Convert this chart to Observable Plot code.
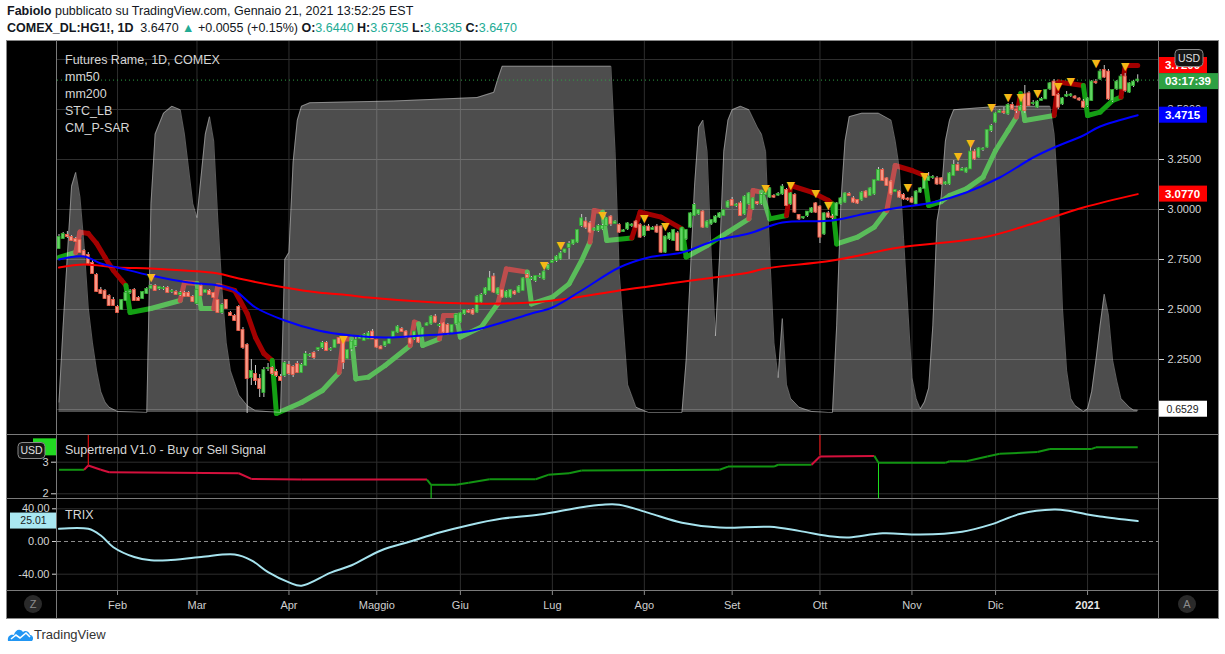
<!DOCTYPE html>
<html><head><meta charset="utf-8">
<script src="https://cdn.jsdelivr.net/npm/d3@7"></script>
<script src="https://cdn.jsdelivr.net/npm/@observablehq/plot@0.6"></script>
<style>
body{margin:0;background:#fff;}
#wrap{position:relative;width:1225px;height:654px;overflow:hidden;background:#fff;font-family:'Liberation Sans',Arial,sans-serif;}
.abs{position:absolute;}
.hdr{position:absolute;left:7px;font-size:12.5px;color:#131722;white-space:nowrap;}
.t{color:#22ab94;}
.lg{position:absolute;left:65px;font-size:12.5px;color:#d6d6d6;white-space:nowrap;}
.ln{position:absolute;background:#7a7a7a;}
svg{position:absolute;left:0;}
</style></head><body><div id="wrap">
<div class="hdr" style="top:4px"><b>Fabiolo</b> pubblicato su TradingView.com, Gennaio 21, 2021 13:52:25 EST</div>
<div class="hdr" style="top:21px"><b>COMEX_DL:HG1!, 1D</b>&nbsp; 3.6470 <span class="t">▲</span> +0.0055 (+0.15%) <b>O:</b><span class="t">3.6440</span> <b>H:</b><span class="t">3.6735</span> <b>L:</b><span class="t">3.6335</span> <b>C:</b><span class="t">3.6470</span></div>
<div class="abs" id="frame" style="left:6px;top:40px;width:1213px;height:579px;background:#000;box-sizing:border-box;border:1px solid #888;"></div>
<div class="abs" style="left:7px;top:626px;"><svg width="26" height="16" style="position:static"><path d="M1 15 C0 10 4 8 7 9 C8 4 13 2 16 6 C18 4 22 5 23 9 C26 9 27 13 25 15 Z" fill="#2196f3"/><polyline points="4,13 9,9 13,12 19,7 23,11" stroke="#fff" fill="none" stroke-width="1.6"/></svg></div>
<div class="abs" style="left:34px;top:627px;font-size:13px;color:#333;">TradingView</div>
</div>
<script>
// ---------------- DATA ----------------
const opens = [
2.805,2.855,2.87,2.86,2.85,2.845,2.79,2.77,2.73,2.67,
2.595,2.59,2.565,2.545,2.51,2.50,2.545,2.585,2.595,2.555,
2.555,2.58,2.605,2.615,2.605,2.605,2.605,2.59,2.585,2.575,
2.58,2.58,2.56,2.53,2.615,2.585,2.59,2.58,2.545,2.485,
2.545,2.48,2.465,2.51,2.395,2.32,2.16,2.175,2.15,2.085,
2.205,2.205,2.185,2.16,2.17,2.22,2.21,2.225,2.185,2.22,
2.27,2.28,2.30,2.31,2.33,2.30,2.31,2.355,2.345,2.255,
2.303,2.32,2.355,2.345,2.353,2.387,2.345,2.312,2.32,2.33,
2.362,2.387,2.40,2.387,2.353,2.353,2.362,2.362,2.42,2.428,
2.462,2.42,2.428,2.42,2.387,2.428,2.437,2.478,2.49,2.495,
2.487,2.537,2.578,2.595,2.662,2.578,2.595,2.562,2.562,2.587,
2.587,2.595,2.67,2.655,2.645,2.665,2.653,2.703,2.735,2.745,
2.753,2.787,2.81,2.828,2.837,2.92,2.937,2.928,2.898,2.895,
2.903,2.92,2.962,2.93,2.92,2.89,2.903,2.92,2.937,2.92,
2.87,2.912,2.90,2.912,2.912,2.787,2.853,2.845,2.878,2.795,
2.853,2.912,2.97,2.978,2.987,2.912,2.928,2.937,2.962,2.97,
3.012,3.045,3.02,3.028,2.978,3.028,3.003,3.035,3.028,3.075,
3.062,3.065,3.072,3.078,3.095,3.028,3.07,2.97,2.958,2.97,
2.987,3.028,3.012,2.878,2.978,2.962,2.97,3.028,3.037,3.075,
3.053,3.045,3.048,3.087,3.07,3.078,3.145,3.195,3.153,3.137,
3.09,3.087,3.07,3.052,3.053,3.028,3.087,3.105,3.145,3.16,
3.153,3.153,3.128,3.128,3.17,3.22,3.195,3.187,3.203,3.287,
3.262,3.30,3.312,3.395,3.437,3.485,3.487,3.478,3.52,3.497,
3.495,3.573,3.578,3.53,3.512,3.545,3.553,3.603,3.637,3.57,
3.528,3.567,3.57,3.562,3.552,3.537,3.52,3.545,3.636,3.653,
3.695,3.687,3.545,3.603,3.603,3.662,3.587,3.62,3.644];
const highs = [
2.875,2.885,2.89,2.87,2.86,2.85,2.80,2.785,2.745,2.68,
2.61,2.60,2.575,2.56,2.52,2.55,2.59,2.60,2.605,2.565,
2.59,2.61,2.625,2.625,2.615,2.615,2.615,2.60,2.595,2.59,
2.59,2.59,2.57,2.60,2.625,2.60,2.60,2.585,2.55,2.53,
2.55,2.49,2.475,2.52,2.41,2.33,2.25,2.22,2.175,2.21,
2.23,2.215,2.20,2.175,2.24,2.24,2.22,2.24,2.23,2.29,
2.28,2.29,2.31,2.34,2.34,2.31,2.35,2.36,2.35,2.30,
2.345,2.36,2.37,2.38,2.39,2.40,2.35,2.32,2.34,2.36,
2.39,2.42,2.41,2.395,2.36,2.39,2.37,2.41,2.435,2.47,
2.475,2.43,2.435,2.43,2.425,2.475,2.485,2.50,2.50,2.505,
2.57,2.58,2.61,2.69,2.68,2.61,2.60,2.595,2.60,2.595,
2.62,2.66,2.68,2.665,2.67,2.68,2.695,2.73,2.75,2.77,
2.79,2.80,2.84,2.85,2.90,2.975,2.96,2.94,2.91,2.925,
2.925,2.96,2.97,2.945,2.93,2.90,2.935,2.93,2.945,2.93,
2.92,2.925,2.915,2.925,2.92,2.87,2.885,2.90,2.89,2.91,
2.90,2.985,3.03,3.00,2.995,2.945,2.95,2.97,2.985,3.00,
3.045,3.06,3.03,3.04,3.07,3.085,3.06,3.04,3.08,3.09,
3.11,3.075,3.085,3.125,3.105,3.085,3.08,2.975,2.965,2.99,
3.01,3.035,3.02,2.985,2.99,2.975,3.035,3.06,3.085,3.085,
3.065,3.05,3.09,3.095,3.11,3.15,3.21,3.205,3.16,3.145,
3.10,3.095,3.08,3.06,3.065,3.095,3.11,3.16,3.185,3.17,
3.165,3.16,3.14,3.185,3.245,3.235,3.21,3.21,3.33,3.30,
3.31,3.31,3.40,3.425,3.485,3.50,3.51,3.53,3.535,3.50,
3.52,3.62,3.59,3.545,3.545,3.56,3.60,3.635,3.65,3.58,
3.56,3.59,3.58,3.57,3.56,3.55,3.56,3.645,3.65,3.70,
3.72,3.70,3.60,3.645,3.675,3.68,3.635,3.645,3.6735];
const lows = [
2.80,2.85,2.855,2.84,2.835,2.78,2.765,2.725,2.675,2.585,
2.575,2.55,2.515,2.515,2.48,2.495,2.54,2.575,2.54,2.54,
2.55,2.575,2.60,2.59,2.595,2.595,2.58,2.58,2.57,2.565,
2.56,2.56,2.535,2.52,2.565,2.58,2.57,2.555,2.48,2.475,
2.50,2.465,2.44,2.39,2.30,1.98,2.12,2.12,2.06,2.06,
2.19,2.17,2.16,2.14,2.16,2.17,2.16,2.18,2.18,2.215,
2.26,2.25,2.29,2.30,2.29,2.29,2.305,2.325,2.20,2.25,
2.29,2.31,2.35,2.34,2.35,2.35,2.305,2.30,2.31,2.325,
2.355,2.38,2.385,2.355,2.325,2.345,2.33,2.355,2.415,2.42,
2.43,2.41,2.38,2.37,2.38,2.42,2.43,2.47,2.48,2.47,
2.48,2.53,2.57,2.59,2.58,2.57,2.555,2.555,2.555,2.57,
2.58,2.59,2.655,2.645,2.635,2.655,2.645,2.695,2.73,2.735,
2.745,2.78,2.75,2.82,2.83,2.91,2.90,2.88,2.89,2.885,
2.895,2.915,2.915,2.925,2.88,2.885,2.895,2.91,2.905,2.855,
2.86,2.89,2.895,2.88,2.78,2.78,2.845,2.84,2.79,2.79,
2.845,2.905,2.965,2.97,2.905,2.905,2.92,2.93,2.955,2.965,
3.005,3.015,3.01,2.965,2.97,3.02,2.995,3.02,3.02,3.07,
3.055,3.055,3.065,3.07,3.015,3.02,2.98,2.945,2.95,2.96,
2.98,2.98,2.83,2.87,2.955,2.95,2.965,3.02,3.03,3.065,
3.03,3.025,3.04,3.055,3.065,3.07,3.14,3.14,3.115,3.07,
3.085,3.055,3.045,3.04,3.03,3.02,3.08,3.10,3.14,3.15,
3.12,3.12,3.12,3.12,3.165,3.19,3.19,3.18,3.20,3.245,
3.255,3.29,3.305,3.385,3.43,3.48,3.475,3.47,3.495,3.48,
3.49,3.48,3.515,3.52,3.505,3.54,3.55,3.595,3.565,3.50,
3.52,3.56,3.56,3.55,3.54,3.505,3.51,3.54,3.625,3.645,
3.655,3.545,3.535,3.595,3.60,3.585,3.58,3.61,3.6335];
const closes = [
2.86,2.875,2.865,2.845,2.84,2.785,2.77,2.73,2.68,2.59,
2.58,2.555,2.52,2.52,2.485,2.545,2.58,2.59,2.545,2.545,
2.585,2.60,2.615,2.595,2.61,2.605,2.585,2.59,2.575,2.58,
2.565,2.565,2.54,2.595,2.57,2.595,2.575,2.56,2.485,2.52,
2.505,2.47,2.445,2.395,2.31,2.155,2.19,2.145,2.105,2.195,
2.205,2.18,2.17,2.145,2.23,2.18,2.175,2.185,2.22,2.275,
2.27,2.26,2.305,2.33,2.295,2.30,2.345,2.33,2.235,2.295,
2.337,2.345,2.36,2.37,2.378,2.353,2.312,2.303,2.337,2.353,
2.387,2.412,2.39,2.362,2.332,2.387,2.337,2.403,2.428,2.462,
2.437,2.42,2.387,2.378,2.42,2.47,2.478,2.495,2.487,2.478,
2.562,2.57,2.603,2.653,2.587,2.603,2.562,2.587,2.595,2.578,
2.612,2.653,2.66,2.655,2.665,2.665,2.687,2.72,2.74,2.762,
2.778,2.798,2.825,2.845,2.895,2.953,2.912,2.887,2.902,2.915,
2.915,2.953,2.928,2.937,2.887,2.893,2.928,2.922,2.912,2.862,
2.912,2.895,2.905,2.887,2.787,2.862,2.878,2.895,2.795,2.903,
2.895,2.978,3.02,2.995,2.912,2.937,2.945,2.962,2.978,2.995,
3.037,3.02,3.022,2.97,3.062,3.078,3.053,3.03,3.07,3.08,
3.103,3.062,3.075,3.112,3.02,3.078,2.987,2.953,2.96,2.987,
3.003,2.987,2.862,2.978,2.962,2.96,3.028,3.053,3.078,3.07,
3.037,3.032,3.082,3.062,3.103,3.145,3.195,3.145,3.12,3.078,
3.095,3.062,3.053,3.05,3.037,3.087,3.103,3.15,3.162,3.16,
3.128,3.128,3.133,3.178,3.22,3.195,3.2,3.203,3.287,3.253,
3.303,3.302,3.395,3.415,3.478,3.49,3.485,3.52,3.503,3.495,
3.512,3.495,3.52,3.53,3.537,3.55,3.595,3.628,3.57,3.512,
3.553,3.57,3.572,3.558,3.548,3.512,3.553,3.637,3.634,3.687,
3.662,3.553,3.595,3.637,3.662,3.595,3.628,3.637,3.647];

const monthLabels = ["Feb","Mar","Apr","Maggio","Giu","Lug","Ago","Set","Ott","Nov","Dic","2021"];
const monthBars = [14,33,55,76,96,118,140,161,182,204,224,246];
const priceGrid = [2.0,2.25,2.5,2.75,3.0,3.25,3.5,3.75];
const priceLabels = [2.25,2.5,2.75,3.0,3.25,3.5];

const sma50Bars = [0,6,10,14,22,31,38,42,47,54,62,70,78,87,94,99,106,113,118,125,134,141,149,157,165,173,185,193,201,209,217,225,233,238,245,249,258];
const sma50Vals = [2.75,2.765,2.73,2.71,2.67,2.635,2.62,2.595,2.51,2.445,2.395,2.37,2.36,2.37,2.38,2.395,2.435,2.48,2.51,2.595,2.71,2.76,2.785,2.845,2.88,2.935,2.945,2.98,3.01,3.035,3.085,3.16,3.26,3.31,3.37,3.415,3.4715];
const sma200Bars = [0,6,14,22,30,38,43,54,62,70,74,90,98,106,113,122,134,146,153,165,169,185,201,221,233,245,258];
const sma200Vals = [2.71,2.725,2.71,2.705,2.695,2.68,2.655,2.61,2.585,2.57,2.56,2.535,2.53,2.53,2.535,2.555,2.595,2.63,2.65,2.685,2.705,2.745,2.81,2.86,2.93,3.01,3.077];

const sarBars = [0,4,5,7,9,11,13,15,16,17,22,29,30,33,34,37,38,42,45,47,49,51,52,58,63,67,68,70,71,74,78,84,85,86,87,91,92,95,96,101,105,107,112,113,118,122,125,127,128,130,131,137,139,144,149,150,155,160,165,166,168,170,174,175,180,184,185,186,191,195,198,200,204,207,208,211,213,217,221,224,227,229,230,231,238,239,245,246,249,252,254,255,258];
const sarVals = [2.76,2.785,2.887,2.88,2.83,2.76,2.695,2.645,2.62,2.485,2.505,2.545,2.635,2.63,2.505,2.505,2.62,2.595,2.48,2.36,2.28,2.245,1.98,2.035,2.095,2.185,2.353,2.353,2.153,2.162,2.22,2.32,2.437,2.428,2.32,2.353,2.47,2.47,2.362,2.412,2.53,2.703,2.687,2.528,2.562,2.628,2.745,2.837,2.995,2.987,2.845,2.858,2.987,2.962,2.903,2.762,2.82,2.887,2.953,3.095,3.087,2.953,2.97,3.12,3.087,3.045,3.028,2.828,2.862,2.912,2.995,3.22,3.195,3.17,3.02,3.04,3.07,3.103,3.162,3.295,3.395,3.462,3.58,3.445,3.47,3.637,3.62,3.47,3.487,3.545,3.562,3.72,3.72];
const sarSide = "uudddddddu uuddu uddddddu uuudd u uuudd u udd u uudd u uuuudd u uddd u uuudd u udddd u uuuddd u uuuuuuudu udd u uuudd".replace(/ /g,"").split("");

const stcBars = [0,1,2,3,4,5,6,7,8,9,10,11,12,14,21,22,23,25,27,29,30,31,32,33,34,35,36,37,38,39,40,41,43,45,47,53,54,55,56,57,58,60,80,100,104,105,106,132,133,134,136,138,141,149,150,151,152,153,154,155,156,157,158,159,160,161,163,165,167,168,169,170,171,172,173,174,175,177,180,184,185,186,187,188,189,192,196,199,200,201,202,203,204,205,206,207,208,209,210,211,212,213,214,225,237,238,239,240,241,242,243,245,246,247,248,249,250,251,252,253,254,256,257,258];
const stcVals = [3,25,45,65,69,62,48,30,20,12,6,3,1.5,0.3,0,60,80,86,88,87,80,70,60,56,68,80,85,78,55,35,20,12,5,2,0.5,0,44,46,72,84,88,89,89.5,90.5,92,96,99.5,99.5,75,40,8,1.5,0,0,15,40,65,82,84,75,45,22,45,75,84,87,88,87,82,80,75,45,20,10,27,8,4,1.5,0.3,0,0,25,60,78,85,86,86,84,78,70,50,30,10,4,1,3,7,25,55,62,78,84,87,88,88,80,62,30,12,4,2,0.3,1,6,15,25,34,28,15,9,4,1.5,0.7,0.6529];

const sigBars = [22,68,116,120,130,140,145,169,175,181,184,203,207,215,218,223,227,230,234,239,242,248,255];
const sigVals = [2.66,2.35,2.72,2.82,2.97,2.953,2.915,3.103,3.12,3.078,3.02,3.112,3.165,3.265,3.332,3.512,3.562,3.562,3.582,3.615,3.642,3.732,3.715];

const stBars = [0,6,7,10,12,43,46,58,88,89,95,98,103,114,117,122,125,158,160,171,172,180,182,195,196,212,213,217,222,225,234,237,247,248,258];
const stVals = [2.76,2.76,2.895,2.76,2.68,2.65,2.47,2.45,2.45,2.285,2.285,2.35,2.46,2.46,2.6,2.65,2.74,2.76,2.86,2.86,2.92,2.92,3.18,3.2,2.98,2.98,3.03,3.03,3.18,3.27,3.32,3.42,3.42,3.47,3.47];
const stSide = "uudddddddu uuuuuuuuuuuu dd uuuuuuuuuuu".replace(/ /g,"").split("");
const stSpikeBars = [7,89,182,196];
const stSpikeFrom = [2.895,2.285,3.2,2.98];
const stSpikeSide = ["d","u","d","u"];

const trixBars = [0,7,10,13,18,22,26,34,42,46,50,55,58,65,70,77,84,91,98,106,115,125,130,134,141,149,158,170,177,185,189,197,206,216,223,230,238,241,246,249,258];
const trixVals = [15.5,15.5,7.3,-7,-19,-23,-23,-19,-16,-23,-37.5,-50,-54,-38,-29,-11,0,11,20,28,33,42,45,45,35,23,17,18,13,6,5,10,8.5,12,21,34,39,38,33,30.6,25.01];

// ---------------- LAYOUT ----------------
const W = 1225;
const FONT = "'Liberation Sans', Arial, sans-serif";
const xDomain = [-0.36, 262.97];
const xRange = [57, 1158];
const GRID = "#2e2e2e";
const wrap = document.getElementById("wrap");

function pane(top, h, y, marks) {
  const p = Plot.plot({
    width: W, height: h, marginLeft: 57, marginRight: 67, marginTop: 0, marginBottom: 0,
    x: {domain: xDomain, range: xRange, axis: null},
    y: y,
    style: {background: "transparent", color: "#d4d4d4", fontFamily: FONT, fontSize: "11px", overflow: "visible"},
    marks
  });
  p.style.position = "absolute"; p.style.left = "0px"; p.style.top = top + "px";
  wrap.appendChild(p);
  return p;
}
function box(svg, x, yc, w, h, fill, text, color, bold, stroke) {
  const g = d3.select(svg).append("g");
  g.append("rect").attr("x", x).attr("y", yc - h/2).attr("width", w).attr("height", h)
    .attr("fill", fill).attr("rx", stroke ? 4 : 0).attr("stroke", stroke || "none");
  if (text) g.append("text").attr("x", x + w/2).attr("y", yc).attr("dy", "0.36em").attr("text-anchor", "middle")
    .attr("fill", color).attr("font-size", bold ? 11.5 : 10.5).attr("font-weight", bold ? "bold" : "normal")
    .attr("font-family", FONT).text(text);
}

const n = Math.min(opens.length, highs.length, lows.length, closes.length);
const candles = d3.range(n).map(i => ({i, o: opens[i], h: highs[i], l: lows[i], c: closes[i], up: closes[i] >= opens[i]}));
const pts = (bs, vs) => bs.map((b, k) => ({i: b, v: vs[k]}));
const SAR_UP = "#14a014", SAR_DN = "#a30000";
const sarSegs = sarBars.slice(1).map((b, k) => ({x1: sarBars[k], y1: sarVals[k], x2: b, y2: sarVals[k+1], c: sarSide[k+1] === "u" ? SAR_UP : SAR_DN}));
const STC0 = 1.985, STCK = 0.0174;
const stc = stcBars.map((b, k) => ({i: b, p: STC0 + stcVals[k] * STCK}));
const sigs = pts(sigBars, sigVals);

// ---- main pane: page y 41..434 ----
const main = pane(41, 393, {domain: [2, 3.75], range: [368, 18]}, [
  Plot.ruleY(priceGrid, {stroke: GRID}),
  Plot.ruleX(monthBars, {stroke: GRID}),
  Plot.link(sarSegs, {x1: "x1", y1: "y1", x2: "x2", y2: "y2", stroke: "c", strokeWidth: 5, strokeLinecap: "round"}),
  Plot.areaY(stc, {x: "i", y1: () => STC0, y2: "p", fill: "#ffffff", fillOpacity: 0.3}),
  Plot.lineY(stc, {x: "i", y: "p", stroke: "#ffffff", strokeOpacity: 0.35, strokeWidth: 1}),
  Plot.ruleY([closes[n-1]], {stroke: "#2ea043", strokeDasharray: "1,3", strokeWidth: 1}),
  Plot.ruleX(candles, {x: "i", y1: "l", y2: "h", stroke: "#c9c9c9", strokeWidth: 1}),
  Plot.rect(candles, {x1: d => d.i - 0.36, x2: d => d.i + 0.36, y1: "o", y2: "c",
    fill: d => d.up ? "#62d462" : "#f79a88", stroke: d => d.up ? "#2faa2f" : "#ee5540", strokeWidth: 0.8,
    insetTop: -0.5, insetBottom: -0.5}),
  Plot.lineY(pts(sma200Bars, sma200Vals), {x: "i", y: "v", stroke: "#ff0000", strokeWidth: 2, curve: "catmull-rom"}),
  Plot.lineY(pts(sma50Bars, sma50Vals), {x: "i", y: "v", stroke: "#0000ff", strokeWidth: 2, curve: "catmull-rom"}),
  Plot.text(sigs, {x: "i", y: "v", text: () => "▼", fill: "#f5b716", fontSize: 11, fontFamily: "DejaVu Sans"}),
  Plot.axisY(priceLabels, {anchor: "right", label: null, tickFormat: d => d.toFixed(4), tickSize: 5, tickPadding: 4, fontSize: 11, color: "#d4d4d4"})
]);
{
  const ys = main.scale("y");
  const yS = v => ys.apply(v);
  box(main, 1158, yS(3.72), 49, 16, "#ff0000", "3.7200", "#fff", true);
  box(main, 1158, yS(closes[n-1]) + 1.5, 60, 16, "#2ea043", "03:17:39", "#fff", true);
  box(main, 1158, yS(sma50Vals[sma50Vals.length-1]), 49, 16, "#0000ff", sma50Vals[sma50Vals.length-1].toFixed(4), "#fff", true);
  box(main, 1158, yS(sma200Vals[sma200Vals.length-1]), 49, 16, "#ff0000", sma200Vals[sma200Vals.length-1].toFixed(4), "#fff", true);
  box(main, 1158, yS(STC0 + stcVals[stcVals.length-1] * STCK) - 1, 49, 16, "#ffffff", stcVals[stcVals.length-1].toFixed(4), "#222", false);
  box(main, 1175, 17, 28, 17, "#141414", "USD", "#e0e0e0", false, "#8a8a8a");
}

// ---- supertrend pane: page y 435..498 ----
const stSegs = stBars.slice(1).map((b, k) => ({x1: stBars[k], y1: stVals[k], x2: b, y2: stVals[k+1], c: stSide[k+1] === "u" ? "#129412" : "#d4103c"}));
const spikes = stSpikeBars.map((b, k) => ({i: b, a: stSpikeFrom[k], b: stSpikeSide[k] === "u" ? 1.85 : 3.85, c: stSpikeSide[k] === "u" ? "#1ee01e" : "#ff1010"}));
const stp = pane(435, 63, {domain: [2, 3], range: [58.3, 26.7]}, [
  Plot.ruleY([2, 3], {stroke: GRID}),
  Plot.ruleX(monthBars, {stroke: GRID}),
  Plot.ruleX(spikes, {x: "i", y1: "a", y2: "b", stroke: "c", strokeWidth: 1}),
  Plot.link(stSegs, {x1: "x1", y1: "y1", x2: "x2", y2: "y2", stroke: "c", strokeWidth: 2}),
  Plot.axisY([2, 3], {anchor: "left", label: null, tickFormat: d => String(d), tickSize: 6, tickPadding: 3, fontSize: 11, color: "#d4d4d4"})
]);
{
  const ys = stp.scale("y");
  box(stp, 33, ys.apply(stVals[stVals.length-1]), 24, 17, "#22d822", "", "#fff", true);
  box(stp, 18, 15.5, 27, 16, "#141414", "USD", "#e0e0e0", false, "#8a8a8a");
}

// ---- TRIX pane: page y 499..590 ----
const trp = pane(499, 91, {domain: [-40, 40], range: [74.7, 9.3]}, [
  Plot.ruleY([-40, 40], {stroke: GRID}),
  Plot.ruleX(monthBars, {stroke: GRID}),
  Plot.ruleY([0], {stroke: "#8c8c8c", strokeDasharray: "4,3"}),
  Plot.lineY(pts(trixBars, trixVals), {x: "i", y: "v", stroke: "#a6e3ee", strokeWidth: 2, curve: "catmull-rom"}),
  Plot.axisY([-40, 0, 40], {anchor: "left", label: null, tickFormat: d => d.toFixed(2), tickSize: 5, tickPadding: 3, fontSize: 11, color: "#d4d4d4"})
]);
{
  const ys = trp.scale("y");
  box(trp, 10, ys.apply(trixVals[trixVals.length-1]), 47, 16, "#a9e7f1", trixVals[trixVals.length-1].toFixed(2), "#1b1b1b", false);
}

// ---- time axis: page y 591..618 ----
const months = monthBars.map((b, k) => ({i: b, t: monthLabels[k]}));
pane(591, 27, undefined, [
  Plot.ruleX(monthBars, {stroke: "#8a8a8a", insetBottom: 23}),
  Plot.text(months.filter(d => d.t !== "2021"), {x: "i", text: "t", frameAnchor: "middle", dy: 0, fontSize: 11, fill: "#cfcfcf"}),
  Plot.text(months.filter(d => d.t === "2021"), {x: "i", text: "t", frameAnchor: "middle", dy: 0, fontSize: 11, fontWeight: "bold", fill: "#e8e8e8"})
]);

// ---- frame lines & labels (drawn over) ----
const lines = [
  [6, 434, 1213, 1], [6, 498, 1213, 1], [6, 590, 1213, 1],
  [56, 40, 1, 579], [1158, 40, 1, 579]
];
for (const [l, t, w, h] of lines) {
  const d = document.createElement("div"); d.className = "ln";
  Object.assign(d.style, {left: l + "px", top: t + "px", width: w + "px", height: h + "px"});
  wrap.appendChild(d);
}
const legends = [["Futures Rame, 1D, COMEX", 53], ["mm50", 70], ["mm200", 87], ["STC_LB", 104], ["CM_P-SAR", 121],
  ["Supertrend V1.0 - Buy or Sell Signal", 443], ["TRIX", 508]];
for (const [t, y] of legends) {
  const d = document.createElement("div"); d.className = "lg"; d.style.top = y + "px"; d.textContent = t;
  wrap.appendChild(d);
}
for (const [t, x] of [["Z", 33], ["A", 1187]]) {
  const d = document.createElement("div");
  Object.assign(d.style, {position: "absolute", left: (x - 9) + "px", top: "595px", width: "18px", height: "18px",
    borderRadius: "9px", background: "#2a2a2a", color: "#8c8c8c", fontSize: "11px", textAlign: "center", lineHeight: "18px"});
  d.textContent = t; wrap.appendChild(d);
}
</script></body></html>
